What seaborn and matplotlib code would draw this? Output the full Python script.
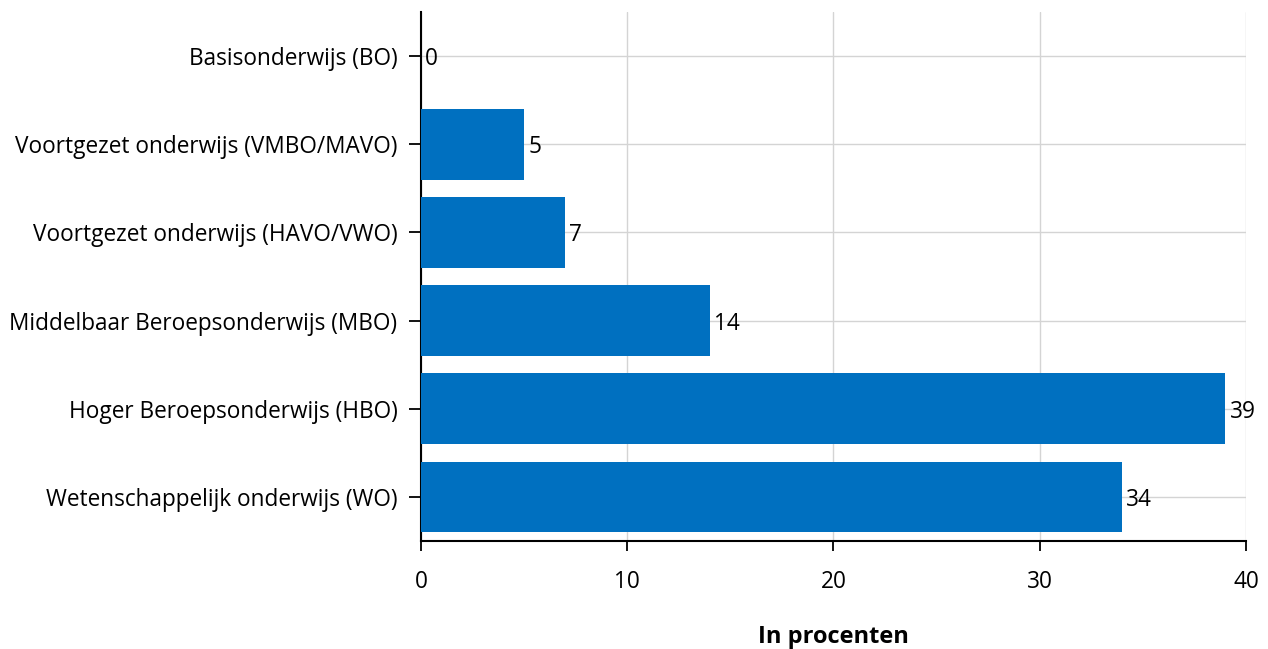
import pandas as pd
import matplotlib.pyplot as plt
import seaborn as sns

# Onderwijsniveau en aandeel in procenten
categories = [
    "Basisonderwijs (BO)",
    "Voortgezet onderwijs (VMBO/MAVO)",
    "Voortgezet onderwijs (HAVO/VWO)",
    "Middelbaar Beroepsonderwijs (MBO)",
    "Hoger Beroepsonderwijs (HBO)",
    "Wetenschappelijk onderwijs (WO)",
]
values = [0, 5, 7, 14, 39, 34]
x_ticks = [0, 10, 20, 30, 40]

df = pd.DataFrame({"Niveau": categories, "Procent": values})

sns.set_style("white")
plt.rcParams["font.family"] = ["Open Sans", "DejaVu Sans"]
plt.rcParams["text.color"] = "black"
plt.rcParams["xtick.color"] = "black"
plt.rcParams["ytick.color"] = "black"

fig = plt.figure(figsize=(12.68, 6.49), dpi=100)
ax = fig.add_axes([0.332, 0.1664, 0.6506, 0.8151])

sns.barplot(data=df, x="Procent", y="Niveau", color="#0070C0", saturation=1,
            width=0.8, linewidth=0, ax=ax, zorder=3)

for bar, v in zip(ax.patches, values):
    ax.text(bar.get_width() + 0.2, bar.get_y() + bar.get_height() / 2, str(v),
            va="center_baseline", ha="left", fontsize=16.3, color="black", zorder=4)

ax.set_xlim(0, 40)
ax.set_ylim(5.5, -0.5)
ax.set_xticks(x_ticks)
ax.grid(True, color="#d4d4d4", linewidth=1, zorder=0)
ax.set_axisbelow(True)

for s in ["top", "right"]:
    ax.spines[s].set_visible(False)
for s in ["left", "bottom"]:
    ax.spines[s].set_color("black")
    ax.spines[s].set_linewidth(1.5)

ax.tick_params(axis="y", left=True, length=9, width=1.3, pad=8, labelsize=16.3,
               labelcolor="black")
ax.tick_params(axis="x", bottom=True, length=7, width=1.3, pad=14, labelsize=16.3,
               labelcolor="black")
ax.set_ylabel("")
ax.set_xlabel("In procenten", fontsize=17, fontweight="bold", labelpad=22,
              color="black")

fig.savefig("out.png", dpi=100)
